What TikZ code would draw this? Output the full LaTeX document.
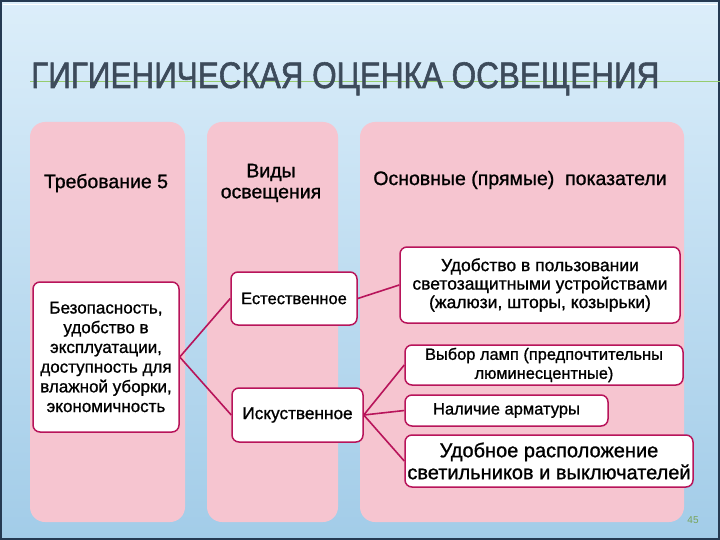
\documentclass[tikz,border=0pt]{standalone}
\usepackage{fontspec}
\setmainfont{Liberation Sans}
\newfontfamily\titlefont[FakeStretch=0.85, FakeBold=1.5]{Liberation Sans}
\newfontfamily\heavyfont[FakeBold=1]{Liberation Sans}
\usetikzlibrary{positioning}

\definecolor{skytop}{HTML}{DCEEFA}
\definecolor{skybot}{HTML}{A2CCE8}
\definecolor{frameblue}{HTML}{253A52}
\definecolor{panelpink}{HTML}{F6C5D0}
\definecolor{linkred}{HTML}{B8145A}
\definecolor{titlegray}{HTML}{3D4B5B}
\definecolor{rulegreen}{HTML}{96CC6E}

\tikzset{
    panel/.style={fill=panelpink, rounded corners=15pt},
    itembox/.style={draw=linkred, line width=1.5pt, fill=white, rounded corners=7pt,
        align=center, inner sep=1pt, font=\heavyfont\fontsize{16.5}{19}\selectfont},
    headtext/.style={align=center, font=\heavyfont\fontsize{19.5}{21}\selectfont},
    link/.style={linkred, line width=1.6pt}
}

\begin{document}
\begin{tikzpicture}[x=1pt, y=-1pt]
    % background and frame
    \useasboundingbox (0,0) rectangle (720,540);
    \shade[top color=skytop, bottom color=skybot] (0,0) rectangle (720,540);
    \draw[frameblue, line width=2.5pt] (1,1) rectangle (719,539);
    \draw[white, line width=0.6pt] (3,4.5) -- (717,4.5);

    % title
    \draw[rulegreen, line width=1pt] (30,82) -- (720,82);
    \node[anchor=base west, text=titlegray, inner sep=0pt,
        font=\titlefont\fontsize{37}{40}\selectfont] (title) at (31,88)
        {ГИГИЕНИЧЕСКАЯ ОЦЕНКА ОСВЕЩЕНИЯ};

    % columns
    \fill[panel] (30,122) rectangle (185,522);
    \fill[panel] (207,122) rectangle (338,522);
    \fill[panel] (360,122) rectangle (684,522);

    \node[headtext] (req) at (106,183) {Требование 5};
    \node[headtext] (kinds) at (271,183) {Виды\\освещения};
    \node[headtext] (main) at (520,180) {Основные (прямые)\ \ показатели};

    % boxes
    \node[itembox, minimum width=146pt, minimum height=150pt,
        font=\heavyfont\fontsize{17}{19.7}\selectfont] (safe) at (106,357)
        {Безопасность,\\удобство в\\эксплуатации,\\доступность для\\влажной уборки,\\экономичность};
    \node[itembox, minimum width=126pt, minimum height=53pt] (natural) at (294,298.5) {Естественное};
    \node[itembox, minimum width=131pt, minimum height=54pt,
        font=\heavyfont\fontsize{17.2}{19}\selectfont] (artif) at (297.5,415) {Искуственное};
    \node[itembox, minimum width=280pt, minimum height=76pt,
        font=\heavyfont\fontsize{17.5}{18.5}\selectfont] (shade) at (540,285)
        {Удобство в пользовании\\светозащитными устройствами\\(жалюзи, шторы, козырьки)};
    \node[itembox, minimum width=278pt, minimum height=40pt,
        font=\heavyfont\fontsize{16.4}{19}\selectfont] (lamps) at (544,365)
        {Выбор ламп (предпочтительны\\люминесцентные)};
    \node[itembox, minimum width=203pt, minimum height=31pt] (fittings) at (506.5,410.5)
        {Наличие арматуры};
    \node[itembox, minimum width=288pt, minimum height=52pt,
        font=\heavyfont\fontsize{20}{22}\selectfont] (placing) at (549,461)
        {Удобное расположение\\светильников и выключателей};

    % links
    \draw[link] (safe.east) -- (natural.west);
    \draw[link] (safe.east) -- (artif.west);
    \draw[link] (natural.east) -- (shade.west);
    \draw[link] (artif.east) -- (lamps.west);
    \draw[link] (artif.east) -- (fittings.west);
    \draw[link] (artif.east) -- (placing.west);

    % page number
    \node[text=rulegreen!80!black, font=\fontsize{10}{11}\selectfont] (page) at (693,520) {45};
\end{tikzpicture}
\end{document}
